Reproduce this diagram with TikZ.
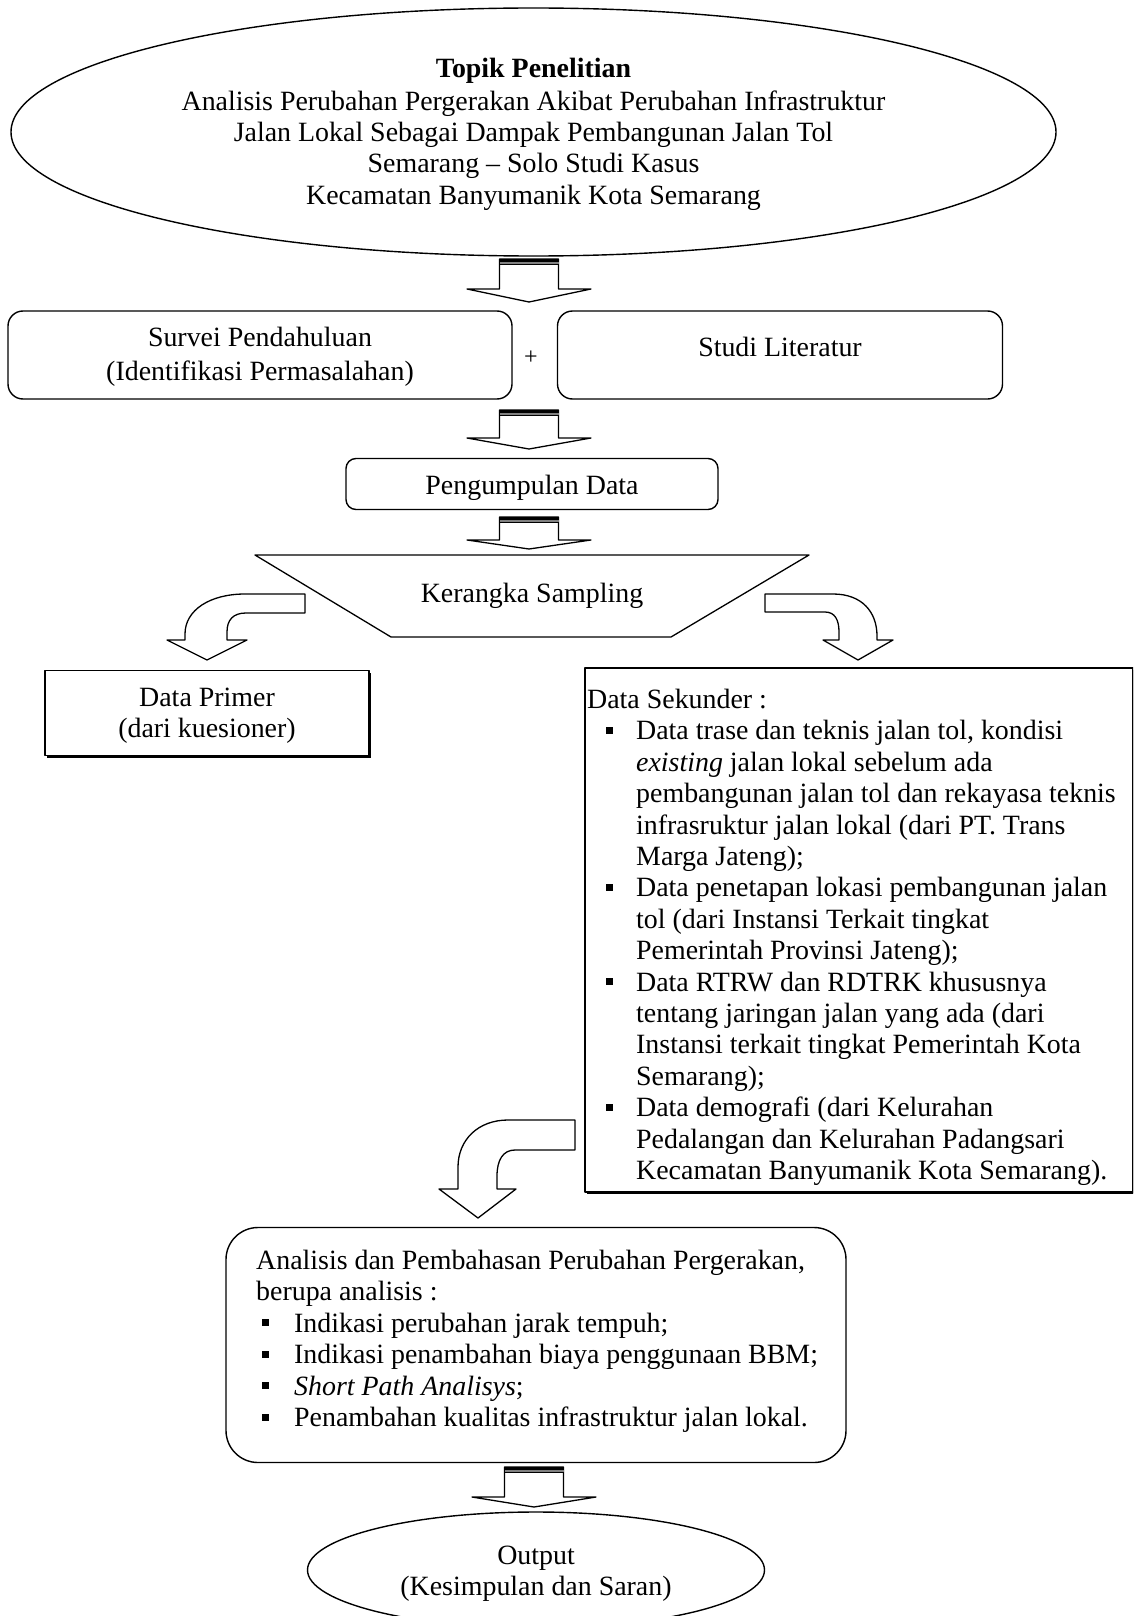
\documentclass[tikz,border=0pt]{standalone}
\usepackage{fontspec}
\setmainfont{Liberation Serif}
\usetikzlibrary{shapes.geometric}
\newcommand\txtfont{\fontsize{27.9}{31.4}\selectfont}
\newcommand\bulsq{\rule[6pt]{7pt}{7pt}}
\newcommand\bsi{\makebox[49pt][l]{\hspace*{19pt}\bulsq}}
\newcommand\bsj{\hspace*{49pt}}
\newcommand\bai{\makebox[38pt][l]{\hspace*{6pt}\bulsq}}
% straight block arrow: #1 centre x, #2 top y, #3 head base y, #4 tip y
\newcommand\blockdown[4]{%
  \draw[blk] (#1-29.5,#2) -- (#1-29.5,#3) -- (#1-62,#3) -- (#1,#4) -- (#1+62,#3) -- (#1+29.5,#3) -- (#1+29.5,#2) -- cycle;
  \fill[black] (#1-29.5,#2) rectangle (#1+29.5,#2+3);
  \fill[gray] (#1-29.5,#2+3) rectangle (#1+29.5,#2+4.5);
  \fill[black] (#1-29.5,#2+4.5) rectangle (#1+29.5,#2+6);
}
\begin{document}
\begin{tikzpicture}[x=1pt,y=-1pt,line join=round,
  blk/.style={draw,fill=white,line width=1.3pt},
  frame/.style={draw,fill=white,line width=1.4pt,inner sep=0pt},
  shadowbox/.style={fill=black,inner sep=0pt},
  lbl/.style={font=\txtfont,inner sep=0pt,align=center},
  para/.style={font=\txtfont,inner sep=0pt,align=left,anchor=north west}]
\useasboundingbox (0,0) rectangle (1133,1616);
\clip (0,0) rectangle (1133,1616);

% Topic ellipse
\node[frame,ellipse,minimum width=1045,minimum height=248] (topik) at (533.5,132) {};
\node[lbl] (topiktxt) at (533.5,134) {\textbf{Topik Penelitian}\\[1.5pt]
  Analisis Perubahan Pergerakan Akibat Perubahan Infrastruktur\\
  Jalan Lokal Sebagai Dampak Pembangunan Jalan Tol\\
  Semarang -- Solo Studi Kasus\\
  Kecamatan Banyumanik Kota Semarang};

\blockdown{529}{259}{289}{302}

% Survey and literature boxes
\node[frame,rounded corners=15,minimum width=504,minimum height=88] (survei) at (260,355) {};
\node[lbl] (surveitxt) at (260,357) {Survei Pendahuluan\\[2.6pt](Identifikasi Permasalahan)};
\node[inner sep=0pt,font=\fontsize{24}{26}\selectfont] (plus) at (531,358) {+};
\node[frame,rounded corners=15,minimum width=445,minimum height=88] (studi) at (780,355) {};
\node[lbl] (studitxt) at (780,347) {Studi Literatur};

\blockdown{529}{410}{438}{449}

\node[frame,rounded corners=10,minimum width=372,minimum height=51] (kumpul) at (532,484) {};
\node[lbl] (kumpultxt) at (532,488) {Pengumpulan Data};

\blockdown{529}{517}{540}{549}

% Sampling frame (trapezoid)
\draw[blk] (255,555) coordinate (kA) -- (809,555) coordinate (kB) -- (671,637) coordinate (kC) -- (391,637) coordinate (kD) -- cycle;
\node[lbl] (kerangka) at (532,596) {Kerangka Sampling};

% curved arrow left
\draw[blk] (305,594) -- (245,594) .. controls (210,594) and (185,610) .. (185,634) -- (185,640) -- (167,640) -- (207,660) -- (247,640) -- (227,640) -- (227,632) .. controls (227,620) and (233,613) .. (246,613) -- (305,613) -- cycle;
% curved arrow right
\draw[blk] (765,594) -- (833,594) .. controls (862,594) and (877,612) .. (877,636) -- (877,640) -- (893,640) -- (858,660) -- (823,640) -- (839,640) -- (839,632) .. controls (839,620) and (835,612) .. (825,612) -- (765,612) -- cycle;

% Data primer
\node[shadowbox,minimum width=324,minimum height=85] at (209,715) {};
\node[frame,minimum width=324,minimum height=85] (primer) at (207,713) {};
\node[lbl] (primertxt) at (207,716) {Data Primer\\(dari kuesioner)};

% Data sekunder
\node[shadowbox,minimum width=548,minimum height=524] at (861,932) {};
\node[frame,minimum width=548,minimum height=524] (sekunder) at (859,930) {};
\node[para] (sekundertxt) at (587,689) {Data Sekunder :\\
\bsi Data trase dan teknis jalan tol, kondisi\\
\bsj\textit{existing} jalan lokal sebelum ada\\
\bsj pembangunan jalan tol dan rekayasa teknis\\
\bsj infrasruktur jalan lokal (dari PT. Trans\\
\bsj Marga Jateng);\\
\bsi Data penetapan lokasi pembangunan jalan\\
\bsj tol (dari Instansi Terkait tingkat\\
\bsj Pemerintah Provinsi Jateng);\\
\bsi Data RTRW dan RDTRK khususnya\\
\bsj tentang jaringan jalan yang ada (dari\\
\bsj Instansi terkait tingkat Pemerintah Kota\\
\bsj Semarang);\\
\bsi Data demografi (dari Kelurahan\\
\bsj Pedalangan dan Kelurahan Padangsari\\
\bsj Kecamatan Banyumanik Kota Semarang).};

% curved arrow to analysis
\draw[blk] (575,1120) -- (508,1120) .. controls (478,1120) and (458,1140) .. (458,1167) -- (458,1189) -- (439,1189) -- (478,1218) -- (516,1189) -- (497,1189) -- (497,1176) .. controls (497,1160) and (503,1150) .. (515,1150) -- (575,1150) -- cycle;

% Analysis box
\node[frame,rounded corners=32,minimum width=620,minimum height=235] (analisis) at (536,1345) {};
\node[para] (analisistxt) at (256,1250) {Analisis dan Pembahasan Perubahan Pergerakan,\\
berupa analisis :\\
\bai Indikasi perubahan jarak tempuh;\\
\bai Indikasi penambahan biaya penggunaan BBM;\\
\bai\textit{Short Path Analisys};\\
\bai Penambahan kualitas infrastruktur jalan lokal.};

\blockdown{534}{1467}{1497}{1507}

% Output ellipse
\node[frame,ellipse,minimum width=457,minimum height=116] (output) at (536,1570) {};
\node[lbl] (outputtxt) at (536,1574) {Output\\(Kesimpulan dan Saran)};
\end{tikzpicture}
\end{document}
